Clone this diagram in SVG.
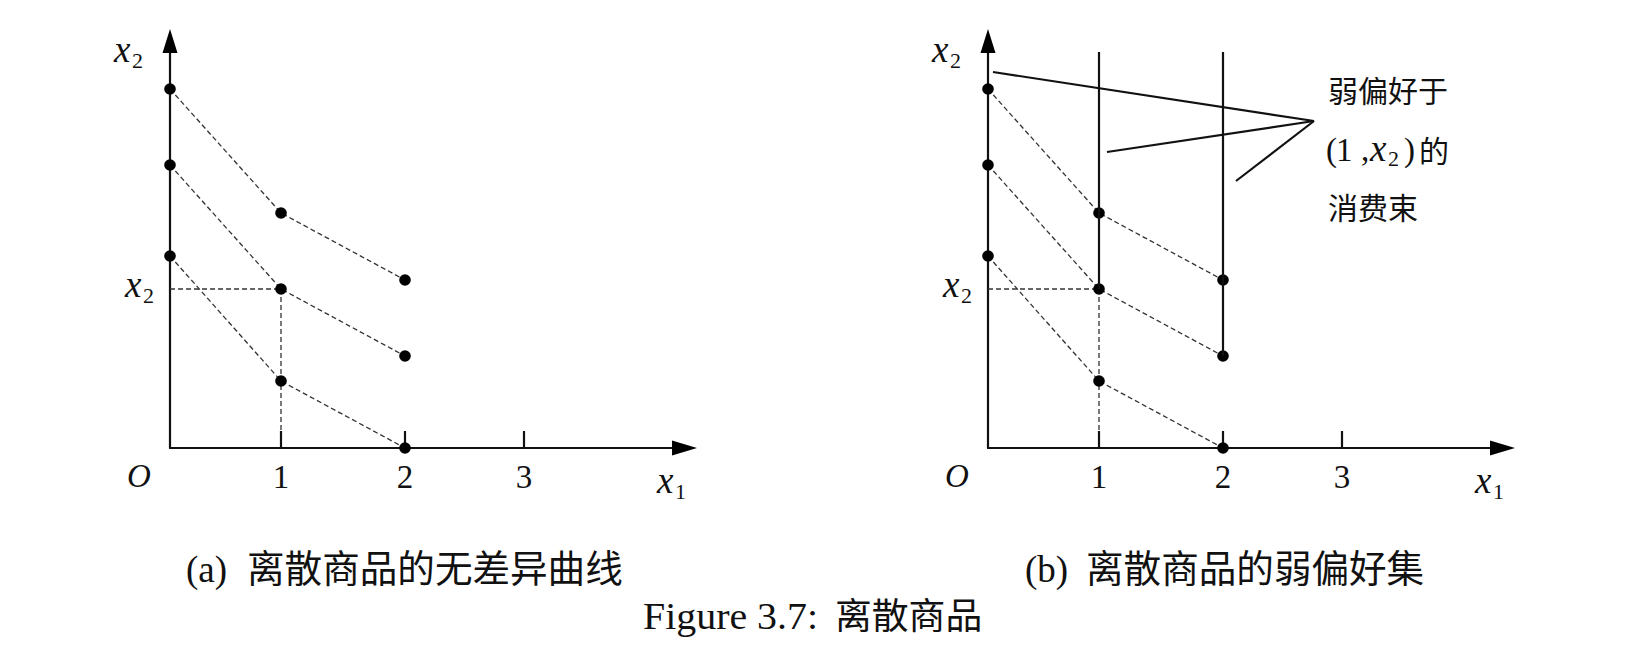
<svg xmlns="http://www.w3.org/2000/svg" width="1651" height="666" viewBox="0 0 1651 666">
<style>
.axis{stroke:#111;stroke-width:2.2;fill:none}
.tick{stroke:#111;stroke-width:2.2}
.dash{stroke:#333;stroke-width:1.3;stroke-dasharray:5 3;fill:none}
.solid{stroke:#111;stroke-width:2.2;fill:none}
.dot{fill:#000}
.arr{fill:#000}
.m{font-family:"Liberation Serif",serif;font-size:33px;fill:#111}
.mi{font-family:"Liberation Serif",serif;font-style:italic;font-size:33px;fill:#111}
.xi{font-family:"Liberation Serif",serif;font-style:italic;font-size:37px;fill:#111}
.sub{font-family:"Liberation Serif",serif;font-size:22px;fill:#111}
.cjk{font-family:"Noto Sans CJK SC",sans-serif;fill:#111}
.cap{font-family:"Liberation Serif",serif;font-size:37px;fill:#111}
</style>
<rect width="1651" height="666" fill="#fff"/>
<defs>
<g id="panel">
  <line class="axis" x1="170" y1="448" x2="170" y2="50"/>
  <polygon class="arr" points="170,29 177.5,53 162.5,53"/>
  <line class="axis" x1="169" y1="448" x2="675" y2="448"/>
  <polygon class="arr" points="697,448 672,440.5 672,455.5"/>
  <line class="tick" x1="281" y1="431" x2="281" y2="448"/>
  <line class="tick" x1="405" y1="431" x2="405" y2="448"/>
  <line class="tick" x1="524" y1="431" x2="524" y2="448"/>
  <text class="xi" x="114" y="62">x</text><text class="sub" x="132" y="68">2</text>
  <text class="xi" x="125" y="297">x</text><text class="sub" x="143" y="303">2</text>
  <text class="mi" x="127" y="487">O</text>
  <text class="m" x="281" y="488" text-anchor="middle">1</text>
  <text class="m" x="405" y="488" text-anchor="middle">2</text>
  <text class="m" x="524" y="488" text-anchor="middle">3</text>
  <text class="xi" x="657" y="493">x</text><text class="sub" x="675" y="499">1</text>
  <g class="connectors">
    <polyline class="dash" points="170,89 281,213 405,280"/>
    <polyline class="dash" points="170,165 281,289 405,356"/>
    <polyline class="dash" points="170,256 281,381 405,448"/>
    <line class="dash" x1="170" y1="289" x2="281" y2="289"/>
    <line class="dash" x1="281" y1="289" x2="281" y2="432"/>
  </g>
  <g class="dots">
    <circle class="dot" cx="170" cy="89" r="5.8"/>
    <circle class="dot" cx="170" cy="165" r="5.8"/>
    <circle class="dot" cx="170" cy="256" r="5.8"/>
    <circle class="dot" cx="281" cy="213" r="5.8"/>
    <circle class="dot" cx="281" cy="289" r="5.8"/>
    <circle class="dot" cx="281" cy="381" r="5.8"/>
    <circle class="dot" cx="405" cy="280" r="5.8"/>
    <circle class="dot" cx="405" cy="356" r="5.8"/>
    <circle class="dot" cx="405" cy="448" r="5.8"/>
  </g>
</g>
</defs>

<g id="panel-a">
  <use href="#panel"/>
</g>

<g id="panel-b">
  <use href="#panel" transform="translate(818,0)"/>
  <g id="weak-pref-lines" class="connectors">
    <line class="solid" x1="1099" y1="52" x2="1099" y2="289"/>
    <line class="solid" x1="1223" y1="52" x2="1223" y2="356"/>
  </g>
  <g id="annotation-lines" class="connectors">
    <line class="solid" x1="993" y1="72" x2="1314" y2="121"/>
    <line class="solid" x1="1107" y1="152" x2="1314" y2="121"/>
    <line class="solid" x1="1236" y1="181" x2="1314" y2="121"/>
  </g>
  <g id="annotation">
    <text class="cjk" x="1328" y="101.5" font-size="30">弱偏好于</text>
    <text class="m" x="1326" y="161" font-size="31">(</text>
    <text class="m" x="1336" y="161" font-size="31">1</text>
    <text class="m" x="1361" y="161" font-size="31">,</text>
    <text class="xi" x="1370" y="161" font-size="34">x</text>
    <text class="sub" x="1388" y="166">2</text>
    <text class="m" x="1404" y="161" font-size="31">)</text>
    <text class="cjk" x="1419" y="161.5" font-size="30">的</text>
    <text class="cjk" x="1328" y="218.5" font-size="30">消费束</text>
  </g>
</g>

<g id="captions">
  <text class="cap" x="186" y="582">(a)</text>
  <text class="cjk" x="247" y="582" font-size="37.6">离散商品的无差异曲线</text>
  <text class="cap" x="1025" y="582">(b)</text>
  <text class="cjk" x="1086" y="582" font-size="37.6">离散商品的弱偏好集</text>
  <text class="cap" x="643" y="629" font-size="38" textLength="175" lengthAdjust="spacingAndGlyphs">Figure 3.7:</text>
  <text class="cjk" x="835" y="629" font-size="36.8">离散商品</text>
</g>
</svg>
